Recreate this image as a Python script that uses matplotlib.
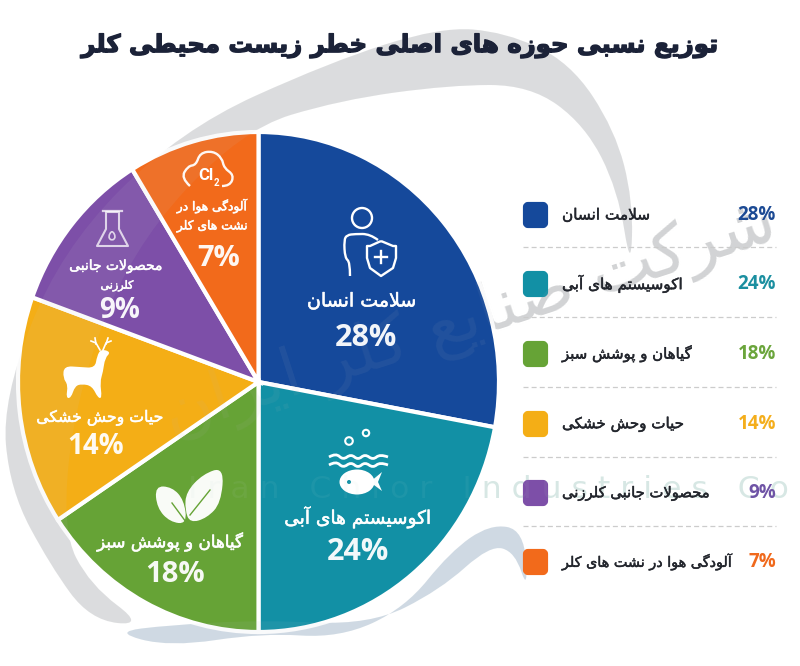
import matplotlib
matplotlib.use("Agg")
import matplotlib.pyplot as plt
import matplotlib.patheffects as pe
from matplotlib.path import Path
from matplotlib.patches import PathPatch, Circle, Ellipse, Polygon, FancyBboxPatch

# ---------- data ----------
title_text = "توزیع نسبی حوزه های اصلی خطر زیست محیطی کلر"
categories = ["سلامت انسان", "اکوسیستم های آبی", "گیاهان و پوشش سبز",
              "حیات وحش خشکی", "محصولات جانبی کلرزنی", "آلودگی هوا در نشت های کلر"]
values = [28, 24, 18, 14, 9, 7]
# the reference's wedges are not drawn in proportion to its labels; shares
drawn_shares = [27.9, 22.1, 15.7, 14.8, 10.7, 8.8]
pie_label_lines = [["سلامت انسان"], ["اکوسیستم های آبی"], ["گیاهان و پوشش سبز"],
                   ["حیات وحش خشکی"], ["محصولات جانبی", "کلرزنی"], ["آلودگی هوا در", "نشت های کلر"]]
watermark_fa = "شرکت صنایع کلر ایران"
watermark_en = "I r a n   C h l o r   I n d u s t r i e s   C o"

# ---------- style ----------
colors = ["#15499b", "#1290a5", "#66a336", "#f4ae16", "#7d4fa8", "#f26a1b"]
pct_colors = ["#1c4a94", "#1b8fa0", "#6ba53c", "#f4ae1c", "#6f54a6", "#f0691c"]
label_pos = [[(362, 301)], [(358, 517)], [(170, 542)], [(100, 418)],
             [(116, 266), (117, 286)], [(212, 206), (212, 226)]]
label_width = [[109], [147], [146], [127], [93, 33], [70, 71]]
pct_pos = [(366, 338), (358, 552), (175, 575), (96, 447), (120, 311), (219, 259)]
pct_size = [22, 22, 21, 20, 20, 21]
leg_y = [215, 284, 354, 424, 493, 562]
leg_width = [88, 121, 130, 122, 148, 170]
sep_y = [247, 317, 387, 457, 526]

# ---------- Persian shaping (matplotlib has no shaping of its own) ----------
F = {
 'ا': (0xFE8D, 0xFE8E), 'آ': (0xFE81, 0xFE82), 'د': (0xFEA9, 0xFEAA), 'ذ': (0xFEAB, 0xFEAC),
 'ر': (0xFEAD, 0xFEAE), 'ز': (0xFEAF, 0xFEB0), 'ژ': (0xFB8A, 0xFB8B), 'و': (0xFEED, 0xFEEE),
 'ب': (0xFE8F, 0xFE90, 0xFE91, 0xFE92), 'پ': (0xFB56, 0xFB57, 0xFB58, 0xFB59),
 'ت': (0xFE95, 0xFE96, 0xFE97, 0xFE98), 'ج': (0xFE9D, 0xFE9E, 0xFE9F, 0xFEA0),
 'ح': (0xFEA1, 0xFEA2, 0xFEA3, 0xFEA4), 'خ': (0xFEA5, 0xFEA6, 0xFEA7, 0xFEA8),
 'س': (0xFEB1, 0xFEB2, 0xFEB3, 0xFEB4), 'ش': (0xFEB5, 0xFEB6, 0xFEB7, 0xFEB8),
 'ص': (0xFEB9, 0xFEBA, 0xFEBB, 0xFEBC), 'ط': (0xFEC1, 0xFEC2, 0xFEC3, 0xFEC4),
 'ع': (0xFEC9, 0xFECA, 0xFECB, 0xFECC), 'ف': (0xFED1, 0xFED2, 0xFED3, 0xFED4),
 'ک': (0xFB8E, 0xFB8F, 0xFB90, 0xFB91), 'گ': (0xFB92, 0xFB93, 0xFB94, 0xFB95),
 'ل': (0xFEDD, 0xFEDE, 0xFEDF, 0xFEE0), 'م': (0xFEE1, 0xFEE2, 0xFEE3, 0xFEE4),
 'ن': (0xFEE5, 0xFEE6, 0xFEE7, 0xFEE8), 'ه': (0xFEE9, 0xFEEA, 0xFEEB, 0xFEEC),
 'ی': (0xFBFC, 0xFBFD, 0xFBFE, 0xFBFF),
}

def fa(s):
    out = []
    i = 0
    n = len(s)
    while i < n:
        c = s[i]
        if c not in F:
            out.append(c)
            i += 1
            continue
        prev = s[i - 1] if i > 0 else ' '
        joins_prev = prev in F and len(F[prev]) == 4
        if c == 'ل' and i + 1 < n and s[i + 1] == 'ا':
            out.append(chr(0xFEFC if joins_prev else 0xFEFB))
            i += 2
            continue
        nxt = s[i + 1] if i + 1 < n else ' '
        forms = F[c]
        joins_next = len(forms) == 4 and nxt in F
        if joins_prev and joins_next:
            g = forms[3]
        elif joins_prev:
            g = forms[1]
        elif joins_next:
            g = forms[2]
        else:
            g = forms[0]
        out.append(chr(g))
        i += 1
    return ''.join(reversed(out))

# ---------- helpers ----------
def smooth(points, closed=True):
    verts, codes = [], []
    m = len(points)
    mid = lambda a, b: ((a[0] + b[0]) / 2, (a[1] + b[1]) / 2)
    if closed:
        verts.append(mid(points[-1], points[0]))
        codes.append(Path.MOVETO)
        for i in range(m):
            verts += [points[i], mid(points[i], points[(i + 1) % m])]
            codes += [Path.CURVE3, Path.CURVE3]
    else:
        verts.append(points[0])
        codes.append(Path.MOVETO)
        for i in range(1, m - 1):
            end = mid(points[i], points[i + 1]) if i < m - 2 else points[-1]
            verts += [points[i], end]
            codes += [Path.CURVE3, Path.CURVE3]
    return Path(verts, codes)

def overlay(z):
    a = fig.add_axes([0, 0, 1, 1], zorder=z)
    a.set_xlim(0, 800)
    a.set_ylim(666, 0)
    a.axis("off")
    a.patch.set_alpha(0)
    return a

def fit(t, width, rotation=0):
    """Scale a text so that its unrotated width is `width` pixels."""
    w = t.get_window_extent(fig.canvas.get_renderer()).width
    t.set_fontsize(t.get_fontsize() * width / w)
    t.set_rotation(rotation)
    return t

gray_arc = [(631, 272), (633, 200), (615, 130), (570, 62), (505, 32), (440, 27), (330, 62),
            (180, 130), (60, 250), (2, 400), (10, 490), (50, 565), (90, 620), (145, 626),
            (90, 585), (62, 530), (75, 400), (130, 250), (241, 130), (340, 100), (450, 85),
            (530, 85), (585, 125), (618, 190)]
teal_arc = [(113, 632), (170, 647), (262, 633), (340, 638), (405, 608), (450, 552), (490, 524),
            (524, 530), (528, 592), (515, 552), (490, 545), (440, 590), (370, 625), (262, 620), (170, 625)]

def draw_watermark(a, k):
    a.add_patch(PathPatch(smooth(gray_arc), fc="#c9cbcd", ec="none", alpha=0.62 * k))
    a.add_patch(PathPatch(smooth(teal_arc), fc="#b4c4d4", ec="none", alpha=0.6 * k))
    t = a.text(470, 320, fa(watermark_fa), fontsize=40, color="#b9bbbd", alpha=0.6 * k,
               ha="center", va="center", family="DejaVu Sans", rotation_mode="anchor")
    fit(t, 640, rotation=18)
    e = a.text(488, 490, watermark_en, fontsize=22, color="#bcd8d2", alpha=0.55 * k,
               ha="center", va="center", family="DejaVu Sans")
    fit(e, 600)

# ---------- figure ----------
fig = plt.figure(figsize=(8, 6.66), dpi=100, facecolor="white")

back = overlay(0)
draw_watermark(back, 1.0)

L, R, T, B = 18, 499, 132, 632
ax = fig.add_axes([L / 800, 1 - B / 666, (R - L) / 800, (B - T) / 666], zorder=1)
ax.pie(drawn_shares, colors=colors, startangle=90, counterclock=False, radius=1,
       wedgeprops=dict(edgecolor="white", linewidth=3))
ax.set_aspect("auto")
ax.set_xlim(-1, 1)
ax.set_ylim(-1, 1)
ax.patch.set_alpha(0)

front = overlay(2)
draw_watermark(front, 0.13)

# title
tt = front.text(400, 46, fa(title_text), fontsize=20, fontweight="bold", color="#1b2238",
                ha="center", va="center", family="DejaVu Sans",
                path_effects=[pe.withStroke(linewidth=1.0, foreground="#1b2238")])
fit(tt, 636)

# slice labels
for lines, poss, widths in zip(pie_label_lines, label_pos, label_width):
    for line, (x, y), w in zip(lines, poss, widths):
        t = front.text(x, y, fa(line), fontsize=11, color="white", ha="center", va="center",
                       family="DejaVu Sans", alpha=0.96,
                       path_effects=[pe.withStroke(linewidth=0.4, foreground="white")])
        fit(t, w)
for v, (x, y), fs in zip(values, pct_pos, pct_size):
    front.text(x, y, f"{v}%", fontsize=fs, fontweight="bold", color="white", ha="center",
               va="center", family="Open Sans", alpha=0.95)

# legend
for cat, v, y, c, pc, w in zip(categories, values, leg_y, colors, pct_colors, leg_width):
    front.add_patch(FancyBboxPatch((525, y - 11), 21, 22, boxstyle="round,pad=0,rounding_size=3",
                                   fc=c, ec=c, lw=3, joinstyle="round"))
    t = front.text(562, y, fa(cat), fontsize=10, color="#23262d", ha="left", va="center",
                   family="DejaVu Sans", path_effects=[pe.withStroke(linewidth=0.35, foreground="#23262d")])
    fit(t, w)
    front.text(776, y, f"{v}%", fontsize=13.5, fontweight="bold", color=pc, ha="right",
               va="center", family="Open Sans")
for y in sep_y:
    front.plot([523, 776], [y, y], color="#cccccc", lw=0.9, ls=(0, (4, 2.5)))

# ---------- icons ----------
W = "white"
# person with shield
front.add_patch(Circle((362, 218), 10, fc="none", ec=W, lw=1.7))
front.add_patch(PathPatch(smooth([(350, 276), (350, 262), (345, 258), (344, 240), (347, 235), (355, 234),
                                  (370, 234), (378, 240)], closed=False), fc="none", ec=W, lw=1.7))
front.add_patch(PathPatch(Path([(381, 241), (393, 246), (396, 246), (396, 258), (393, 268), (381, 276),
                                (370, 268), (367, 258), (367, 246), (370, 246), (381, 241)]),
                          fc="#15499b", ec=W, lw=1.7, joinstyle="round"))
front.plot([381, 381], [251, 263], color=W, lw=1.7)
front.plot([375, 387], [257, 257], color=W, lw=1.7)

# fish and water
front.add_patch(Circle((349, 441), 3.8, fc="none", ec=W, lw=1.5))
front.add_patch(Circle((366, 433), 3.2, fc="none", ec=W, lw=1.5))
for yw in (457, 465):
    front.add_patch(PathPatch(smooth([(329, yw), (336, yw - 4), (343, yw + 3), (351, yw - 3), (358, yw + 3),
                                      (365, yw - 3), (373, yw + 3), (380, yw - 3), (388, yw)], closed=False),
                              fc="none", ec=W, lw=2))
front.add_patch(Ellipse((357, 482), 35, 25, fc=W, ec="none"))
front.add_patch(Polygon([(370, 482), (382, 472), (378, 482), (382, 491)], fc=W, ec="none"))
front.add_patch(Circle((349, 482), 2, fc="#1290a5", ec="none"))

# leaves
front.add_patch(PathPatch(smooth([(155, 486), (172, 487), (184, 500), (187, 524), (170, 522), (157, 508)]),
                          fc=W, ec="none", alpha=0.97))
front.add_patch(PathPatch(smooth([(224, 467), (203, 474), (186, 492), (185, 510), (190, 523), (207, 518),
                                  (221, 503)]), fc=W, ec="none", alpha=0.97))
front.plot([172, 186], [503, 522], color="#66a336", lw=1)
front.plot([190, 210], [515, 490], color="#66a336", lw=1)

# deer
front.add_patch(PathPatch(smooth([(64, 366), (80, 367), (95, 368), (97, 356), (101, 349), (111, 352),
                                  (105, 358), (103, 372), (100, 382), (102, 398), (98, 398), (92, 386),
                                  (82, 384), (75, 386), (71, 398), (66, 398), (68, 385), (63, 378)]),
                          fc=W, ec="none"))
for xs, ys in [([100, 96, 91], [350, 343, 341]), ([96, 95], [344, 338]), ([103, 106, 111], [350, 343, 341]),
               ([106, 108], [344, 338])]:
    front.plot(xs, ys, color=W, lw=1.2)

# flask
front.add_patch(Polygon([(106, 212), (106, 229), (97, 246), (128, 246), (119, 229), (119, 212)],
                        fc="none", ec=W, lw=1.5, alpha=0.75, joinstyle="round"))
front.plot([103, 122], [211, 211], color=W, lw=1.6, alpha=0.75)
front.add_patch(PathPatch(smooth([(112, 230), (116, 237), (112, 241), (108, 237)]), fc="none", ec=W, lw=1.2, alpha=0.75))

# chlorine cloud
front.add_patch(PathPatch(smooth([(190, 186), (181, 178), (188, 166), (196, 165), (200, 153), (213, 151),
                                  (222, 158), (224, 168), (234, 175), (230, 186), (222, 186)], closed=False),
                          fc="none", ec=W, lw=1.7, alpha=0.95))
front.text(206, 175, "Cl", fontsize=12, fontweight="bold", color=W, ha="center", va="center", family="Roboto")
front.text(216, 183, "2", fontsize=7, fontweight="bold", color=W, ha="center", va="center", family="Roboto")

fig.savefig("out.png", dpi=100, facecolor="white")
